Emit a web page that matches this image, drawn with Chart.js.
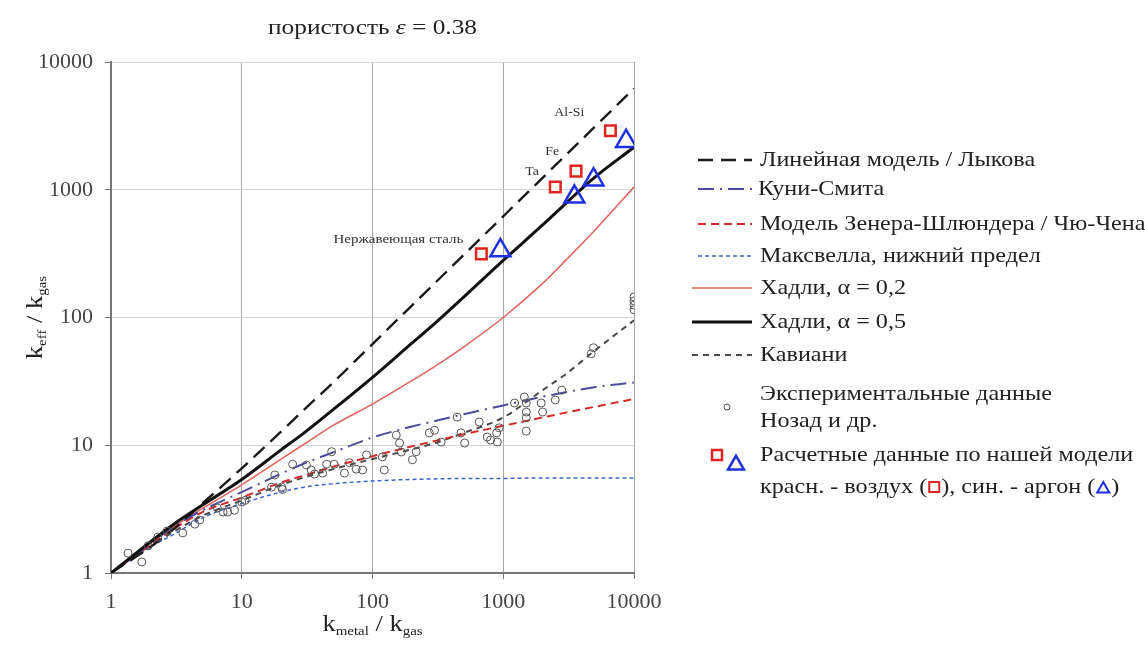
<!DOCTYPE html>
<html lang="ru">
<head>
<meta charset="utf-8">
<script src="https://cdn.jsdelivr.net/npm/chart.js@4.4.1/dist/chart.umd.min.js"></script>
<style>
  html, body { margin: 0; padding: 0; background: #fff; }
</style>
</head>
<body>
<canvas id="chart" width="1145" height="648"></canvas>
<script>
// model curves
const xModel = [1, 2, 3, 5, 10, 20, 30, 50, 100, 200, 300, 500, 1000, 2000, 3000, 5000, 10000];
const linearY = [1, 1.6, 2.2, 3.5, 6.6, 12.8, 19, 31, 62, 124, 186, 310, 620, 1240, 1860, 3100, 6200];
const kuniSmithY = [1, 1.7, 2.3, 3.1, 4.3, 6.0, 7.2, 8.8, 11.5, 14, 15.5, 17.5, 20.5, 24, 26, 28.5, 31];
const zehnerY = [1, 1.65, 2.2, 3.0, 3.9, 5.1, 5.8, 6.8, 8.2, 9.8, 10.8, 12.2, 14.2, 16.5, 18, 20, 23];
const maxwellY = [1, 1.6, 2.0, 2.7, 3.5, 4.3, 4.7, 5.0, 5.25, 5.4, 5.45, 5.5, 5.5, 5.55, 5.55, 5.55, 5.55];
const hadley02Y = [1, 1.7, 2.3, 3.2, 4.9, 7.8, 10.2, 14.3, 21, 32, 41.5, 59, 100, 185, 280, 480, 1050];
const hadley05Y = [1, 1.75, 2.4, 3.4, 5.4, 9.2, 12.5, 19, 34, 63, 90, 145, 280, 530, 780, 1250, 2150];
const kavianiY = [1, 1.6, 2.1, 2.8, 3.7, 4.9, 5.6, 6.5, 7.8, 9.3, 10.4, 12.5, 16.5, 27, 36, 55, 95];

// experimental data (Nozad et al.)
const expX = [1.35, 1.72, 1.92, 2.28, 2.68, 3.54, 4.38, 4.77, 6.5, 7.2, 7.8, 8.8, 10, 10.6,
  16.9, 17.9, 20.2, 20.5, 24.5, 31.2, 34, 36, 41.5, 44.6, 48.7, 51, 61, 66.6, 75, 84, 90,
  119, 123, 152, 161, 166, 202, 216, 272, 298, 335, 444, 475, 507, 655, 754, 800, 890, 900,
  930, 1220, 1450, 1500, 1500, 1500, 1500, 1950, 2000, 2500, 2800, 4700, 4900,
  10000, 10000, 10000, 10000];
const expY = [1.43, 1.22, 1.63, 1.91, 2.13, 2.06, 2.41, 2.6, 3.23, 3.0, 3.0, 3.1, 3.6, 3.7,
  4.7, 5.85, 4.7, 4.5, 7.1, 7.0, 6.4, 5.95, 6.05, 7.1, 8.9, 7.1, 6.05, 7.3, 6.5, 6.4, 8.4,
  8.1, 6.4, 12, 10.4, 8.85, 7.7, 8.9, 12.5, 13.1, 10.6, 16.6, 12.5, 10.4, 15.2, 11.6, 11.0, 12.5, 10.6,
  13.7, 21.4, 23.9, 21.4, 18.2, 16.4, 12.9, 21.4, 18.2, 22.6, 27, 52, 58,
  115, 125, 135, 145];

// our model: air (red squares) and argon (blue triangles)
const airX = [680, 2500, 3600, 6600];
const airY = [315, 1050, 1400, 2900];
const argonX = [950, 3500, 4900, 8700];
const argonY = [335, 880, 1200, 2400];

const tickVals = [1, 10, 100, 1000, 10000];

const serif = '"Liberation Serif", "DejaVu Serif", serif';
const SX = 1.15; // the source text is a bit wide

const pts = (xs, ys) => xs.map((x, i) => ({ x: x, y: ys[i] }));

const styles = {
  linear:  { label: 'Линейная модель / Лыкова', color: '#1a1a1a', width: 2.4, dash: [15, 8] },
  kuni:    { label: 'Куни-Смита', color: '#4b4d9c', width: 2, dash: [16, 6, 2, 6] },
  zehner:  { label: 'Модель Зенера-Шлюндера / Чю-Чена', color: '#d42a2a', width: 2, dash: [8, 5] },
  maxwell: { label: 'Максвелла, нижний предел', color: '#3f64c8', width: 1.5, dash: [4, 3] },
  had02:   { label: 'Хадли, α = 0,2', color: '#e0605a', width: 1.5, dash: [] },
  had05:   { label: 'Хадли, α = 0,5', color: '#111111', width: 3, dash: [] },
  kaviani: { label: 'Кавиани', color: '#4a4a4a', width: 2, dash: [6, 5] }
};

function lineSet(st, ys) {
  return {
    type: 'line',
    label: st.label,
    data: pts(xModel, ys),
    borderColor: st.color,
    borderWidth: st.width,
    borderDash: st.dash,
    pointRadius: 0,
    fill: false,
    cubicInterpolationMode: 'monotone'
  };
}

// widened text, returns drawn width
function wText(ctx, s, x, y, font, align) {
  ctx.font = font;
  const w = ctx.measureText(s).width * SX;
  const x0 = align === 'center' ? x - w / 2 : x;
  ctx.save();
  ctx.textAlign = 'left';
  ctx.translate(x0, y);
  ctx.scale(SX, 1);
  ctx.fillText(s, 0, 0);
  ctx.restore();
  return w;
}

function drawSubText(ctx, x, y, parts) {
  // parts: [text, size, baseline shift]; centred on x
  let total = 0;
  parts.forEach(p => { ctx.font = p[1] + 'px ' + serif; total += ctx.measureText(p[0]).width * SX; });
  let cx = x - total / 2;
  parts.forEach(p => {
    cx += wText(ctx, p[0], cx, y + p[2], p[1] + 'px ' + serif, 'left');
  });
}

function drawSquare(ctx, x, y, s, lw) {
  ctx.save();
  ctx.strokeStyle = '#e02424';
  ctx.lineWidth = lw;
  ctx.setLineDash([]);
  ctx.fillStyle = '#fff';
  ctx.fillRect(x - s / 2, y - s / 2, s, s);
  ctx.strokeRect(x - s / 2, y - s / 2, s, s);
  ctx.restore();
}

function drawTriangle(ctx, x, y, s, lw) {
  ctx.save();
  ctx.strokeStyle = '#1f2fe0';
  ctx.lineWidth = lw;
  ctx.setLineDash([]);
  const h = s * Math.sqrt(3) / 2;
  ctx.beginPath();
  ctx.moveTo(x, y - h * 2 / 3);
  ctx.lineTo(x + s / 2, y + h / 3);
  ctx.lineTo(x - s / 2, y + h / 3);
  ctx.closePath();
  ctx.stroke();
  ctx.restore();
}

const decorPlugin = {
  id: 'decor',
  afterDraw(chart) {
    const ctx = chart.ctx;
    const xs = chart.scales.x, ys = chart.scales.y;
    const area = chart.chartArea;
    const midX = (area.left + area.right) / 2;
    ctx.save();
    ctx.fillStyle = '#222';
    ctx.textBaseline = 'middle';

    // title
    const f = '22px ' + serif, fi = 'italic 22px ' + serif;
    ctx.font = f;
    const w1 = ctx.measureText('пористость ').width * SX;
    const w3 = ctx.measureText('= 0.38').width * SX;
    ctx.font = fi;
    const w2 = ctx.measureText('ε ').width * SX;
    let tx = midX - (w1 + w2 + w3) / 2;
    tx += wText(ctx, 'пористость ', tx, 28, f, 'left');
    tx += wText(ctx, 'ε ', tx, 28, fi, 'left');
    wText(ctx, '= 0.38', tx, 28, f, 'left');

    // axis titles
    drawSubText(ctx, midX, 625, [['k', 23, 0], ['metal', 13, 7], [' / k', 23, 0], ['gas', 13, 7]]);
    ctx.save();
    ctx.translate(36, (area.top + area.bottom) / 2);
    ctx.rotate(-Math.PI / 2);
    drawSubText(ctx, 0, 0, [['k', 23, 0], ['eff', 13, 7], [' / k', 23, 0], ['gas', 13, 7]]);
    ctx.restore();

    // material labels
    ctx.fillStyle = '#333';
    const fs = '12px ' + serif;
    wText(ctx, 'Al-Si', xs.getPixelForValue(3200), ys.getPixelForValue(4000), fs, 'center');
    wText(ctx, 'Fe', xs.getPixelForValue(2370), ys.getPixelForValue(1975), fs, 'center');
    wText(ctx, 'Ta', xs.getPixelForValue(1660), ys.getPixelForValue(1380), fs, 'center');
    wText(ctx, 'Нержавеющая сталь', xs.getPixelForValue(158), ys.getPixelForValue(410), '13px ' + serif, 'center');

    // legend
    const fl = '21px ' + serif;
    const tx0 = 760;
    ctx.fillStyle = '#222';
    const rows = [['linear', 160, 698, 752], ['kuni', 189, 698, 757], ['zehner', 224, 698, 752],
      ['maxwell', 256, 698, 752], ['had02', 288, 692, 752], ['had05', 322, 692, 752], ['kaviani', 355, 692, 752]];
    rows.forEach(r => {
      const st = styles[r[0]], y = r[1];
      ctx.save();
      ctx.strokeStyle = st.color;
      ctx.lineWidth = st.width;
      ctx.setLineDash(st.dash);
      ctx.beginPath();
      ctx.moveTo(r[2], y);
      ctx.lineTo(r[3], y);
      ctx.stroke();
      ctx.restore();
      wText(ctx, st.label, r[0] === 'kuni' ? 758 : tx0, y, fl, 'left');
    });
    ctx.save();
    ctx.strokeStyle = '#555';
    ctx.lineWidth = 1;
    ctx.beginPath();
    ctx.arc(727, 407, 3, 0, Math.PI * 2);
    ctx.stroke();
    ctx.restore();
    wText(ctx, 'Экспериментальные данные', tx0, 394, fl, 'left');
    wText(ctx, 'Нозад и др.', tx0, 421, fl, 'left');
    drawSquare(ctx, 717, 455, 10, 2.5);
    drawTriangle(ctx, 736, 465, 16, 2.5);
    wText(ctx, 'Расчетные данные по нашей модели', tx0, 455, fl, 'left');
    let cx = tx0;
    cx += wText(ctx, 'красн. - воздух (', cx, 487, fl, 'left');
    drawSquare(ctx, cx + 7, 487, 10, 2); cx += 14;
    cx += wText(ctx, '), син. - аргон (', cx, 487, fl, 'left');
    drawTriangle(ctx, cx + 8, 489, 12, 2); cx += 16;
    wText(ctx, ')', cx, 487, fl, 'left');
    ctx.restore();
  }
};

const axisCommon = {
  type: 'logarithmic',
  min: 1,
  max: 10000,
  afterBuildTicks: scale => { scale.ticks = tickVals.map(v => ({ value: v })); },
  ticks: {
    callback: v => String(v),
    color: '#444',
    font: { family: serif, size: 22 },
    autoSkip: false,
    maxRotation: 0
  },
  border: { color: '#777', width: 2 }
};

new Chart(document.getElementById('chart'), {
  data: {
    datasets: [
      {
        type: 'scatter', label: 'воздух', data: pts(airX, airY),
        pointStyle: 'rect', pointRadius: 7.5, borderColor: '#e02424',
        backgroundColor: 'rgba(255,255,240,0.9)', borderWidth: 2.5
      },
      {
        type: 'scatter', label: 'аргон', data: pts(argonX, argonY),
        pointStyle: 'triangle', pointRadius: 11.5, borderColor: '#1f2fe0',
        backgroundColor: 'rgba(255,255,255,0)', borderWidth: 2.5
      },
      {
        type: 'scatter', label: 'Экспериментальные данные Нозад и др.', data: pts(expX, expY),
        pointStyle: 'circle', pointRadius: 4, borderColor: '#555',
        backgroundColor: 'rgba(255,255,255,0)', borderWidth: 1
      },
      lineSet(styles.had05, hadley05Y),
      lineSet(styles.linear, linearY),
      lineSet(styles.kuni, kuniSmithY),
      lineSet(styles.zehner, zehnerY),
      lineSet(styles.maxwell, maxwellY),
      lineSet(styles.had02, hadley02Y),
      lineSet(styles.kaviani, kavianiY)
    ]
  },
  options: {
    responsive: false,
    animation: false,
    layout: { padding: { left: 0, top: 62, right: 511, bottom: 0 } },
    plugins: { legend: { display: false }, tooltip: { enabled: false } },
    scales: {
      x: Object.assign({}, axisCommon, {
        position: 'bottom',
        grid: { color: '#a8a8a8', tickColor: '#777', tickLength: 6 },
        ticks: Object.assign({}, axisCommon.ticks, { padding: 10 }),
        afterFit: s => { s.height = 75; }
      }),
      y: Object.assign({}, axisCommon, {
        position: 'left',
        grid: { color: '#d6d6d6', tickColor: '#777', tickLength: 6 },
        ticks: Object.assign({}, axisCommon.ticks, { padding: 12 }),
        afterFit: s => { s.width = 111; }
      })
    }
  },
  plugins: [decorPlugin]
});
</script>
</body>
</html>
